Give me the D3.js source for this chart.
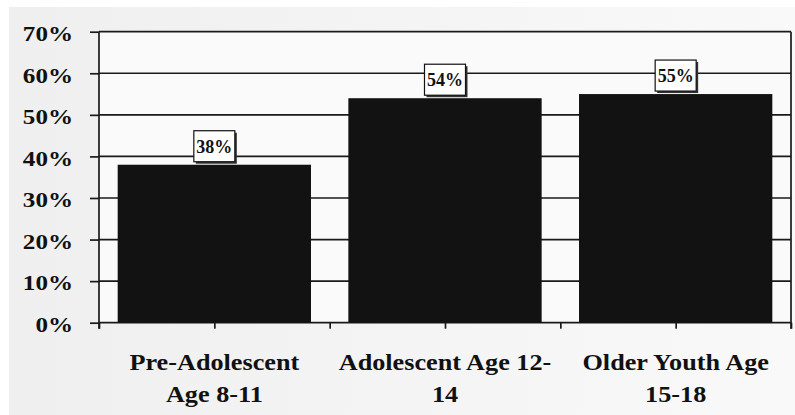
<!DOCTYPE html>
<html>
<head>
<meta charset="utf-8">
<script src="https://cdn.jsdelivr.net/npm/d3@7"></script>
<style>
  html, body { margin: 0; padding: 0; background: #fff; }
  svg { display: block; }
  text { font-family: "Liberation Serif", "Times New Roman", serif; font-weight: bold; fill: #111; }
</style>
</head>
<body>
<svg id="chart" width="795" height="415"></svg>
<script>
// Share of youth by age group
const categories = ["Pre-Adolescent Age 8-11", "Adolescent Age 12-14", "Older Youth Age 15-18"];
const categoryLines = [["Pre-Adolescent", "Age 8-11"], ["Adolescent Age 12-", "14"], ["Older Youth Age", "15-18"]];
const values = [0.38, 0.54, 0.55];
const yTicks = [0, 0.1, 0.2, 0.3, 0.4, 0.5, 0.6, 0.7];

const svg = d3.select("#chart");
const W = 795, H = 415;
const plot = { left: 99, right: 791, top: 31.7, bottom: 322.7 };
const stretch = 1.14;

// Background: white margin, soft grey panel
const defs = svg.append("defs");
const grad = defs.append("linearGradient").attr("id", "bg").attr("x1", 0).attr("x2", 1).attr("y1", 0).attr("y2", 0);
grad.append("stop").attr("offset", 0).attr("stop-color", "#efefef");
grad.append("stop").attr("offset", 1).attr("stop-color", "#f9f9f9");
svg.append("rect").attr("width", W).attr("height", H).attr("fill", "#fff");
svg.append("rect").attr("x", 9).attr("y", 7).attr("width", W - 9).attr("height", H - 7).attr("fill", "url(#bg)");
svg.append("rect").attr("x", plot.left).attr("y", plot.top)
  .attr("width", plot.right - plot.left).attr("height", plot.bottom - plot.top)
  .attr("fill", "#fafafa");

const x = d3.scaleBand().domain(categories).range([plot.left, plot.right])
  .paddingInner(0.162).paddingOuter(0.081);
const y = d3.scaleLinear().domain([0, 0.7]).range([plot.bottom, plot.top]);
const tickPos = d3.scaleLinear().domain([0, categories.length]).range([plot.left, plot.right]);

// Horizontal gridlines
svg.append("g").selectAll("line").data(yTicks).join("line")
  .attr("x1", plot.left).attr("x2", plot.right)
  .attr("y1", d => y(d)).attr("y2", d => y(d))
  .attr("stroke", "#1a1a1a").attr("stroke-width", 1.7);

// Right border
svg.append("line").attr("x1", plot.right).attr("x2", plot.right)
  .attr("y1", plot.top).attr("y2", plot.bottom + 6)
  .attr("stroke", "#1a1a1a").attr("stroke-width", 1.7);

// Bars
svg.append("g").selectAll("rect").data(values).join("rect")
  .attr("x", (d, i) => x(categories[i]))
  .attr("y", d => y(d))
  .attr("width", x.bandwidth())
  .attr("height", d => y(0) - y(d))
  .attr("fill", "#121212");

// Y axis
const yAxis = svg.append("g").attr("transform", `translate(${plot.left},0)`)
  .call(d3.axisLeft(y).tickValues(yTicks).tickSize(9).tickPadding(0).tickFormat(() => ""));
yAxis.select(".domain").attr("stroke", "#1a1a1a").attr("stroke-width", 1.7)
  .attr("d", `M0,${plot.top}V${plot.bottom + 6}`);
yAxis.selectAll(".tick line").attr("stroke", "#1a1a1a").attr("stroke-width", 1.7);
svg.append("g").selectAll("text").data(yTicks).join("text")
  .attr("transform", d => `translate(73,${y(d)}) scale(${stretch},1)`)
  .attr("text-anchor", "end").attr("dy", "0.42em")
  .style("font-size", "22px")
  .text(d => d3.format(".0%")(d));

// X axis ticks at band edges and centres
const xAxis = svg.append("g").attr("transform", `translate(0,${plot.bottom})`)
  .call(d3.axisBottom(tickPos).tickValues(d3.range(0, categories.length + 0.01, 0.5))
    .tickSizeInner(6).tickSizeOuter(0).tickFormat(() => ""));
xAxis.select(".domain").remove();
xAxis.selectAll(".tick line").attr("stroke", "#1a1a1a").attr("stroke-width", 1.7);

// Category labels
const catG = svg.append("g").selectAll("g").data(categoryLines).join("g")
  .attr("transform", (d, i) => `translate(${x(categories[i]) + x.bandwidth() / 2},0)`);
catG.selectAll("text").data(d => d).join("text")
  .attr("transform", (d, j) => `translate(0,${370 + j * 32}) scale(${stretch},1)`)
  .attr("text-anchor", "middle")
  .style("font-size", "23px")
  .text(d => d);

// Value callouts
const lab = svg.append("g").selectAll("g").data(values).join("g")
  .attr("transform", (d, i) => `translate(${x(categories[i]) + x.bandwidth() / 2},${y(d) - 3})`);
const bw = 41, bh = 31;
lab.append("rect").attr("x", -bw / 2 + 2).attr("y", -bh + 2).attr("width", bw).attr("height", bh)
  .attr("fill", "#333");
lab.append("rect").attr("x", -bw / 2).attr("y", -bh).attr("width", bw).attr("height", bh)
  .attr("fill", "#fff").attr("stroke", "#111").attr("stroke-width", 1.2);
lab.append("text").attr("text-anchor", "middle").attr("y", -bh / 2).attr("dy", "0.36em")
  .style("font-size", "18px")
  .text(d => d3.format(".0%")(d));
</script>
</body>
</html>
